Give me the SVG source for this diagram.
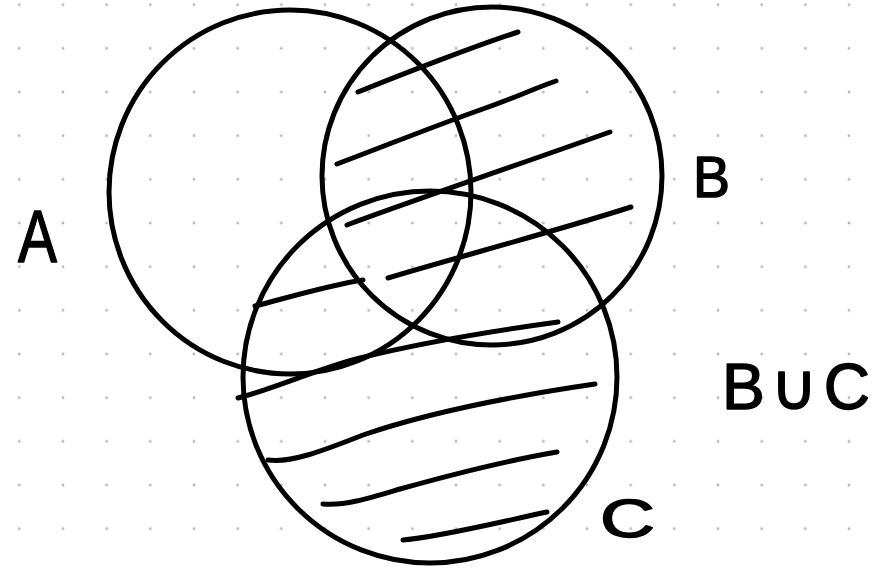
<svg xmlns="http://www.w3.org/2000/svg" width="884" height="569" viewBox="0 0 884 569">
<style>
.set{fill:none;stroke:#000;stroke-width:5}
.hatch path{fill:none;stroke:#000;stroke-width:5;stroke-linecap:round;stroke-linejoin:round}
.lbl{font-family:"Liberation Sans","DejaVu Sans",sans-serif;fill:#000;stroke:#000;stroke-width:1.5;stroke-linejoin:round}
</style>
<defs>
<pattern id="dots" patternUnits="userSpaceOnUse" x="-2.535" y="-17.135" width="43.67" height="43.67">
<circle cx="21.835" cy="21.835" r="1.4" fill="#b8b8b8"/>
</pattern>
</defs>
<rect width="884" height="569" fill="#fff"/>
<rect width="884" height="569" fill="url(#dots)"/>
<g id="set-A"><ellipse class="set" cx="290" cy="192" rx="181" ry="182"/></g>
<g id="set-B"><ellipse class="set" cx="492" cy="176" rx="170" ry="169"/></g>
<g id="set-C"><ellipse class="set" cx="430" cy="377" rx="187" ry="186"/></g>
<g id="hatching" class="hatch">
<path d="M358,92 C400,75 480,44 518,32"/>
<path d="M337,164 C390,144 440,124 480,110 S530,90 556,81"/>
<path d="M347,225 C400,205 540,157 610,132"/>
<path d="M388,278 C440,262 560,230 631,207"/>
<path d="M255,306 C290,297 330,285 363,280"/>
<path d="M238,398 C270,390 320,368 360,358 C420,343 500,330 558,322"/>
<path d="M268,460 C290,463 320,452 363,435 C430,412 520,395 595,384"/>
<path d="M323,504 C345,506 370,498 400,489 C450,475 510,460 557,452"/>
<path d="M403,540 C440,537 500,522 547,512"/>
</g>
<g id="labels">
<text class="lbl" x="18" y="262" font-size="75" textLength="39" lengthAdjust="spacingAndGlyphs">A</text>
<text class="lbl" x="693" y="197" font-size="58" textLength="37" lengthAdjust="spacingAndGlyphs">B</text>
<text class="lbl" x="600" y="537" font-size="54" textLength="55" lengthAdjust="spacingAndGlyphs">C</text>
<text class="lbl" x="722" y="409" font-size="64" textLength="148" lengthAdjust="spacing">B ∪ C</text>
</g>
</svg>
